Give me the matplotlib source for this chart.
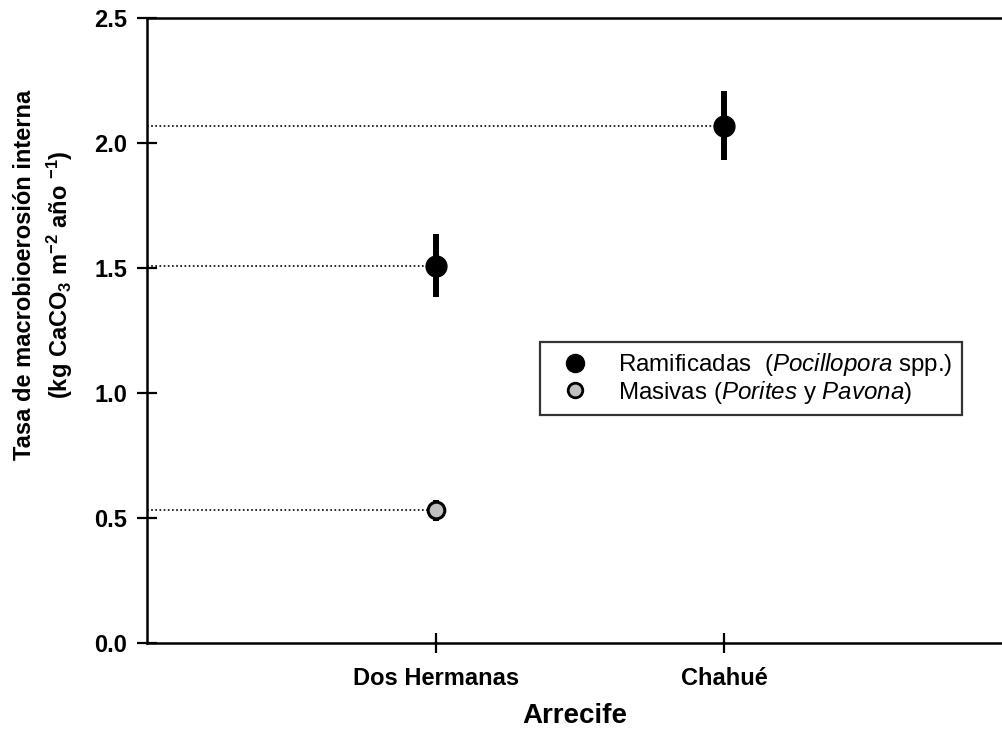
import matplotlib
matplotlib.use("Agg")
import matplotlib.pyplot as plt
from matplotlib.lines import Line2D

plt.rcParams['font.family'] = ['Liberation Sans', 'DejaVu Sans']
plt.rcParams['mathtext.fontset'] = 'custom'
plt.rcParams['mathtext.rm'] = 'Liberation Sans'
plt.rcParams['mathtext.bf'] = 'Liberation Sans:bold'
plt.rcParams['mathtext.it'] = 'Liberation Sans:italic'
plt.rcParams['mathtext.default'] = 'regular'

reefs = ["Dos Hermanas", "Chahué"]
reef_pos = [1, 2]

ram_x = [1, 2]
ram_y = [1.51, 2.07]
ram_err = [0.127, 0.138]

mas_x = [1]
mas_y = [0.532]
mas_err = [0.042]

yticks = [0.0, 0.5, 1.0, 1.5, 2.0, 2.5]

fig = plt.figure(figsize=(10.03, 7.31), dpi=100)
ax = fig.add_axes([147/1003, 88/731, 1 - 147/1003, (643-18)/731])

# dotted reference lines
for x, y in zip(ram_x + mas_x, ram_y + mas_y):
    ax.plot([0, x], [y, y], linestyle=(0, (1, 1.5)), color='black', lw=1.2, zorder=1)

ax.errorbar(ram_x, ram_y, yerr=ram_err, fmt='o', color='black', ms=15,
            elinewidth=4.3, capsize=0, zorder=3)
ax.errorbar(mas_x, mas_y, yerr=mas_err, fmt='o', mfc='#c0c0c0', mec='black',
            mew=2.2, ms=12, ecolor='black', elinewidth=4.3, capsize=0, zorder=3)

ax.set_xlim(0, 2.965)
ax.set_ylim(0, 2.5)
ax.set_yticks(yticks)
ax.set_yticklabels([f"{v:.1f}" for v in yticks])
ax.set_xticks(reef_pos)
ax.set_xticklabels(reefs)

for lab in ax.get_xticklabels() + ax.get_yticklabels():
    lab.set_fontweight('bold')
    lab.set_fontsize(17)

ax.tick_params(axis='both', direction='inout', length=13.7, width=1.6)
ax.tick_params(axis='y', pad=7.5)
ax.tick_params(axis='x', pad=10.5)

for s in ['left', 'bottom', 'top']:
    ax.spines[s].set_linewidth(1.8)
ax.spines['right'].set_visible(False)

ax.set_xlabel("Arrecife", fontsize=20, fontweight='bold', labelpad=9.5)
ax.set_ylabel("Tasa de macrobioerosión interna\n(kg CaCO$_3$ m$^{-2}$ año $^{-1}$)",
              fontsize=17, fontweight='bold', linespacing=1.4,
              family=['Liberation Sans Narrow', 'Liberation Sans', 'DejaVu Sans'])
ax.yaxis.set_label_coords(-0.0841, 0.589)

handles = [
    Line2D([], [], marker='o', linestyle='none', color='black', ms=13),
    Line2D([], [], marker='o', linestyle='none', mfc='#c0c0c0', mec='black', mew=2, ms=10.5),
]
labels = ["Ramificadas  ($\\it{Pocillopora}$ spp.)",
          "Masivas ($\\it{Porites}$ y $\\it{Pavona}$)"]
leg = ax.legend(handles, labels, loc='upper left', bbox_to_anchor=(0.4591, 0.4816),
                borderaxespad=0, fancybox=False, frameon=True, edgecolor='black',
                fontsize=17.4, borderpad=0.38, handletextpad=0.7, labelspacing=0.02,
                handlelength=2.15)
leg.get_frame().set_linewidth(1.6)

fig.savefig("out.png", dpi=100)
